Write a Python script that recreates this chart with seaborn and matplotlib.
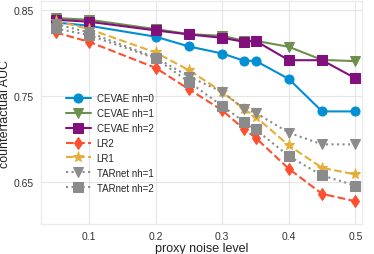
import pandas as pd
import seaborn as sns
import matplotlib.pyplot as plt
import numpy as np

noise = [0.05, 0.1, 0.2, 0.25, 0.3, 0.333, 0.35, 0.4, 0.45, 0.5]
cevae_nh0 = [0.8356, 0.8317, 0.819, 0.8076, 0.7994, 0.7909, 0.7909, 0.7698, 0.732, 0.732]
cevae_nh1 = [0.8407, 0.8387, 0.8278, 0.822, 0.820, 0.8142, 0.8142, 0.8072, 0.792, 0.7905]
cevae_nh2 = [0.8387, 0.8364, 0.8263, 0.8216, 0.8177, 0.813, 0.8142, 0.7916, 0.7916, 0.7706]
lr2 = [0.8239, 0.813, 0.7827, 0.7578, 0.7333, 0.7111, 0.7014, 0.6652, 0.636, 0.6274]
lr1 = [0.8375, 0.8278, 0.8006, 0.780, 0.7547, 0.7344, 0.7259, 0.6924, 0.6663, 0.6586]
tarnet_nh1 = [0.8337, 0.8239, 0.7947, 0.7726, 0.7547, 0.7352, 0.7305, 0.7072, 0.6936, 0.6936]
tarnet_nh2 = [0.8286, 0.8208, 0.7936, 0.7663, 0.7383, 0.7197, 0.7111, 0.680, 0.6574, 0.6457]

series = [
    ("CEVAE nh=0", cevae_nh0, "#008fd5", "o", "-"),
    ("CEVAE nh=1", cevae_nh1, "#6d904f", "v", "-"),
    ("CEVAE nh=2", cevae_nh2, "#810f7c", "s", "-"),
    ("LR2", lr2, "#fc4f30", "d", "--"),
    ("LR1", lr1, "#e5ae38", "*", "--"),
    ("TARnet nh=1", tarnet_nh1, "#8b8b8b", "v", ":"),
    ("TARnet nh=2", tarnet_nh2, "#8b8b8b", "s", ":"),
]

sns.set_style("whitegrid", {"grid.color": "#e5e5e5", "axes.edgecolor": "#ebebeb"})
plt.rcParams['font.family'] = ['Liberation Sans', 'DejaVu Sans']

fig = plt.figure(figsize=(3.74, 2.55), dpi=100)
ax = fig.add_axes([0.11, 0.118, 0.858, 0.874])

for name, vals, col, mk, ls in series:
    sns.lineplot(x=noise, y=vals, ax=ax, color=col, marker=mk, linestyle=ls,
                 linewidth=1.5, markersize=8 if mk == "*" else 6.5,
                 markeredgecolor=col, label=name)

ax.set_xlim(0.028, 0.51)
ax.set_ylim(0.601, 0.8605)
ax.set_xticks([0.1, 0.2, 0.3, 0.4, 0.5])
ax.set_yticks([0.65, 0.75, 0.85])
ax.tick_params(labelsize=7.5, length=0, pad=5, labelcolor="#333333")
ax.set_xlabel("proxy noise level", fontsize=9, labelpad=1, color="#222222")
ax.set_ylabel("counterfactual AUC", fontsize=9, labelpad=2, color="#222222")
for s in ax.spines.values():
    s.set_linewidth(1.0)

ax.legend(loc="lower left", bbox_to_anchor=(0.055, 0.11), fontsize=7,
          frameon=False, handlelength=2.6, labelspacing=0.5, borderpad=0.2,
          handletextpad=0.6)

plt.savefig("out.png", dpi=100)
